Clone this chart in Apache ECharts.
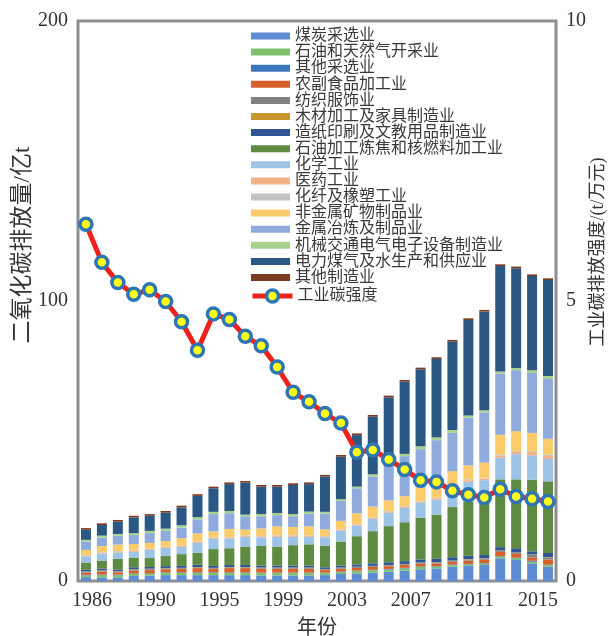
<!DOCTYPE html>
<html>
<head>
<meta charset="utf-8">
<script src="https://cdn.jsdelivr.net/npm/echarts@6/dist/echarts.min.js"></script>
<style>
  html, body { margin: 0; padding: 0; background: #ffffff; }
  #chart { width: 609px; height: 636px; }
</style>
</head>
<body>
<div id="chart"></div>
<script>
// Years on the category axis
const years = ['1986','1987','1988','1989','1990','1991','1992','1993','1994','1995',
  '1996','1997','1998','1999','2000','2001','2002','2003','2004','2005',
  '2006','2007','2008','2009','2010','2011','2012','2013','2014','2015'];

// Text printed under every fourth bar
const tickLabels = ['1986','1990','1995','1999','2003','2007','2011','2015'];

// Industry sectors (stacking order, bottom to top)
const sectors = ['煤炭采选业','石油和天然气开采业','其他采选业','农副食品加工业','纺织服饰业',
  '木材加工及家具制造业','造纸印刷及文教用品制造业','石油加工炼焦和核燃料加工业','化学工业',
  '医药工业','化纤及橡塑工业','非金属矿物制品业','金属冶炼及制品业','机械交通电气电子设备制造业',
  '电力煤气及水生产和供应业','其他制造业'];
const sectorColors = ['#5f8dd3','#80bf6b','#3a78bd','#d6612a','#828282','#c9992d','#2f5597',
  '#5f8a41','#9dc3e6','#f4b183','#c3c3c3','#f9cb6b','#8faadc','#a9d18e','#2b5784','#7b3b20'];
const lineName = '工业碳强度';

// CO2 emissions by sector, 100 Mt, one array per sector (1986..2015)
const coalMining   = [1.4,1.3,1.3,1.8,1.9,2.1,2.1,2.1,2.1,2.1,2.1,2.0,2.0,2.0,2.0,2.1,2.5,2.7,3.0,3.3,3.7,4.2,4.5,5.1,5.4,5.7,8.1,7.5,6.3,5.1];
const oilGasMining = [0.6,0.8,0.8,0.7,0.6,0.8,0.8,0.8,0.8,0.8,0.8,0.8,0.8,0.8,0.8,0.7,0.7,0.8,0.8,0.8,0.8,0.8,0.6,0.6,0.5,0.5,0.6,0.6,0.6,0.6];
const otherMining  = [0.2,0.2,0.2,0.2,0.2,0.2,0.2,0.2,0.2,0.2,0.2,0.2,0.2,0.2,0.2,0.2,0.2,0.2,0.2,0.2,0.2,0.2,0.2,0.2,0.2,0.2,0.2,0.2,0.3,0.2];
const foodProc     = [0.8,1.1,0.8,1.1,1.3,1.1,1.2,1.5,1.2,1.5,1.5,1.4,1.4,1.4,1.4,0.9,1.0,1.0,1.0,1.0,1.0,1.0,1.0,1.0,1.2,1.2,1.5,1.4,1.2,1.8];
const textiles     = [0.3,0.3,0.3,0.3,0.3,0.3,0.3,0.3,0.3,0.3,0.3,0.3,0.3,0.3,0.3,0.3,0.3,0.3,0.3,0.3,0.3,0.3,0.3,0.3,0.3,0.3,0.3,0.3,0.9,0.6];
const woodFurn     = [0.1,0.1,0.1,0.1,0.1,0.1,0.1,0.1,0.1,0.1,0.1,0.1,0.1,0.1,0.1,0.1,0.1,0.1,0.1,0.1,0.1,0.1,0.1,0.1,0.2,0.2,0.2,0.2,0.2,0.2];
const paperPrint   = [0.6,0.6,0.6,0.7,0.6,0.7,0.7,0.8,0.7,0.7,0.7,0.7,0.7,0.7,0.7,0.6,0.7,0.8,0.9,1.0,1.0,1.1,1.2,1.2,1.2,1.2,1.2,1.5,1.1,1.5];
const petroCoking  = [2.6,2.9,3.8,3.5,3.2,3.6,4.2,4.3,6.0,6.0,6.6,7.0,6.8,7.3,7.6,7.7,8.6,10.1,11.5,12.9,13.9,14.9,15.8,17.9,19.4,19.0,24.2,24.6,25.6,25.6];
const chemicals    = [2.2,2.5,2.3,2.0,2.9,2.9,2.6,3.5,3.7,3.5,3.5,3.1,3.5,3.0,2.6,3.0,3.9,3.8,4.4,4.8,5.1,5.4,5.4,7.2,7.0,7.7,7.7,9.0,8.7,8.0];
const pharma       = [0.2,0.3,0.3,0.6,0.3,0.3,0.3,0.3,0.3,0.3,0.3,0.3,0.3,0.3,0.3,0.3,0.3,0.3,0.3,0.4,0.4,0.4,0.5,0.5,0.6,0.6,0.8,0.8,1.2,1.0];
const fibreRubber  = [0.2,0.2,0.2,0.2,0.2,0.2,0.2,0.2,0.2,0.2,0.2,0.2,0.2,0.2,0.2,0.2,0.2,0.2,0.2,0.2,0.2,0.2,0.2,0.3,0.3,0.3,0.3,0.3,0.3,0.5];
const nonMetallic  = [1.9,2.2,2.3,2.0,2.0,2.0,2.6,2.9,2.1,2.9,2.1,2.7,3.2,3.0,3.3,2.4,3.0,3.9,3.9,3.8,3.6,4.8,4.2,4.8,5.0,5.4,7.1,7.1,6.5,5.7];
const metals       = [3.0,3.0,3.2,3.2,3.5,3.6,3.8,5.0,6.2,5.6,4.7,4.3,4.0,3.8,4.5,5.6,7.1,8.9,10.7,12.9,14.3,13.7,16.3,13.7,17.0,17.9,21.8,21.8,21.4,21.4];
const machinery    = [0.6,0.7,0.6,0.7,0.8,0.8,0.8,0.8,0.8,0.8,0.6,0.8,0.8,0.8,0.8,0.6,0.6,0.6,0.8,0.8,0.8,1.0,1.0,1.0,0.8,0.8,0.8,0.8,1.0,1.0];
const utilities    = [3.6,3.8,4.4,5.6,5.4,5.7,6.4,7.6,8.4,9.6,11.4,9.8,9.4,10.4,9.8,12.6,15.2,18.4,20.6,23.1,25.8,27.5,28.0,31.6,34.1,35.2,37.7,35.6,33.6,34.3];
const otherManuf   = [0.6,0.6,0.6,0.6,0.6,0.6,0.6,0.6,0.6,0.6,0.6,0.6,0.6,0.6,0.6,0.6,0.6,0.6,0.6,0.6,0.6,0.6,0.6,0.6,0.6,0.6,0.6,0.6,0.6,0.6];

// Industrial carbon intensity, t per 10^4 yuan
const intensity = [6.37,5.69,5.33,5.12,5.20,4.99,4.63,4.12,4.77,4.67,4.37,4.20,3.82,3.37,3.20,2.99,2.82,2.30,2.34,2.17,1.99,1.80,1.77,1.61,1.54,1.49,1.64,1.51,1.47,1.42];

const sectorData = [coalMining, oilGasMining, otherMining, foodProc, textiles, woodFurn, paperPrint,
  petroCoking, chemicals, pharma, fibreRubber, nonMetallic, metals, machinery, utilities, otherManuf];

const serif = "'Liberation Serif', 'Noto Sans CJK SC', serif";
const textColor = '#333333';
const frameColor = '#8e8e8e';
const lineColor = '#f0201a';
const legendText = { fontFamily: serif, fontSize: 16, color: '#3a3a3a' };

const series = sectors.map((name, i) => ({
  name: name,
  type: 'bar',
  stack: 'co2',
  barWidth: 10,
  itemStyle: { color: sectorColors[i] },
  data: sectorData[i]
}));

series.push({
  name: lineName,
  type: 'line',
  yAxisIndex: 1,
  z: 10,
  data: intensity,
  showAllSymbol: true,
  lineStyle: { color: lineColor, width: 5 },
  symbol: 'circle',
  symbolSize: 12,
  itemStyle: { color: '#ffff1a', borderColor: '#2e75b6', borderWidth: 3.5 }
});

const chart = echarts.init(document.getElementById('chart'), null, { renderer: 'canvas' });
chart.setOption({
  animation: false,
  backgroundColor: '#ffffff',
  grid: {
    left: 78, right: 53, top: 21, bottom: 55,
    outerBoundsMode: 'none',
    show: true, borderColor: frameColor, borderWidth: 3, backgroundColor: 'transparent'
  },
  legend: [
    {
      // sector swatches
      orient: 'vertical',
      left: 246, top: 23,
      itemWidth: 39, itemHeight: 7, itemGap: 0.1,
      icon: 'rect',
      textStyle: legendText,
      data: sectors
    },
    {
      // intensity line entry
      orient: 'vertical',
      left: 245, top: 283,
      itemWidth: 40, itemHeight: 15,
      lineStyle: { color: lineColor, width: 5 },
      itemStyle: { color: '#ffff1a', borderColor: '#2e75b6', borderWidth: 3.5 },
      textStyle: legendText,
      data: [lineName]
    }
  ],
  xAxis: {
    type: 'category',
    data: years,
    name: '年份',
    nameLocation: 'middle',
    nameGap: 38,
    nameMoveOverlap: false,
    nameTextStyle: { fontFamily: serif, fontSize: 20, color: textColor },
    axisLine: { show: false },
    axisTick: { show: false },
    axisLabel: {
      interval: 3,
      margin: 10,
      fontFamily: serif, fontSize: 20, color: textColor,
      padding: [0, 0, 0, 12],
      formatter: (v, idx) => tickLabels[idx / 4]
    }
  },
  yAxis: [
    {
      type: 'value', min: 0, max: 200, interval: 100,
      name: '二氧化碳排放量/亿t',
      nameLocation: 'middle', nameGap: 44, nameRotate: 90,
      nameMoveOverlap: false,
      nameTextStyle: { fontFamily: serif, fontSize: 23, color: textColor, padding: [0, 0, 0, 112] },
      axisLine: { show: false }, axisTick: { show: false }, splitLine: { show: false },
      axisLabel: { margin: 10, fontFamily: serif, fontSize: 20, color: textColor }
    },
    {
      type: 'value', min: 0, max: 10, interval: 5,
      name: '工业碳排放强度/(t/万元)',
      nameLocation: 'middle', nameGap: 33, nameRotate: 90,
      nameMoveOverlap: false,
      nameTextStyle: { fontFamily: serif, fontSize: 18, color: textColor, padding: [0, 0, 0, 98] },
      axisLine: { show: false }, axisTick: { show: false }, splitLine: { show: false },
      axisLabel: { margin: 10, fontFamily: serif, fontSize: 20, color: textColor }
    }
  ],
  series: series
});
</script>
</body>
</html>
